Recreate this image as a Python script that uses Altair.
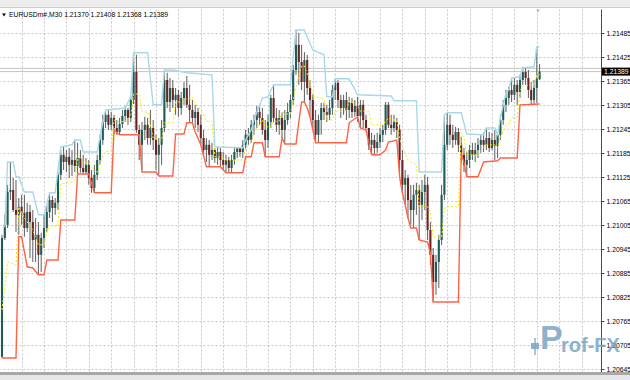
import altair as alt
import pandas as pd

# ---------------- data (EURUSD M30 candles, prices) ----------------
opens = [
    1.20676,1.20973,1.21006,1.21088,1.21093,1.21043,1.21031,1.21051,1.21036,1.20998,
    1.21038,1.21013,1.20968,1.20981,1.20931,1.20973,1.20998,1.21038,1.21068,1.21048,
    1.21061,1.21131,1.21181,1.21163,1.21176,1.21156,1.21168,1.21153,1.21173,1.21148,
    1.21138,1.21156,1.21123,1.21098,1.21131,1.21168,1.21218,1.21263,1.21281,1.21256,
    1.21273,1.21248,1.21238,1.21258,1.21278,1.21293,1.21273,1.21318,1.21388,1.21243,
    1.21206,1.21243,1.21256,1.21223,1.21248,1.21218,1.21181,1.21206,1.21248,1.21368,
    1.21313,1.21348,1.21318,1.21331,1.21298,1.21323,1.21348,1.21306,1.21293,1.21273,
    1.21288,1.21256,1.21223,1.21193,1.21206,1.21181,1.21193,1.21173,1.21188,1.21168,
    1.21156,1.21168,1.21148,1.21168,1.21188,1.21198,1.21188,1.21206,1.21231,1.21218,
    1.21256,1.21268,1.21288,1.21273,1.21243,1.21218,1.21263,1.21323,1.21273,1.21256,
    1.21273,1.21243,1.21268,1.21288,1.21318,1.21393,1.21456,1.21413,1.21363,1.21418,
    1.21348,1.21318,1.21268,1.21231,1.21268,1.21298,1.21288,1.21281,1.21298,1.21343,
    1.21361,1.21318,1.21298,1.21318,1.21293,1.21311,1.21288,1.21303,1.21278,1.21306,
    1.21268,1.21248,1.21206,1.21218,1.21198,1.21213,1.21231,1.21243,1.21306,1.21256,
    1.21248,1.21263,1.21243,1.21168,1.21106,1.21123,1.21068,1.21043,1.21081,1.21093,
    1.21056,1.21088,1.21106,1.20993,1.20931,1.20863,1.20913,1.20968,1.21081,1.21206,
    1.21256,1.21231,1.21218,1.21238,1.21206,1.21181,1.21156,1.21168,1.21193,1.21181,
    1.21193,1.21206,1.21218,1.21206,1.21223,1.21198,1.21218,1.21203,1.21231,1.21268,
    1.21306,1.21323,1.21343,1.21331,1.21356,1.21338,1.21368,1.21388,1.21373,1.21343,
    1.21318,1.21348,1.21370,
]
highs = [
    1.20981,1.21031,1.21106,1.21163,1.21123,1.21118,1.21073,1.21081,1.21081,1.21061,
    1.21056,1.21043,1.21023,1.21013,1.20986,1.21031,1.21056,1.21086,1.21078,1.21073,
    1.21138,1.21193,1.21201,1.21193,1.21198,1.21193,1.21218,1.21211,1.21193,1.21181,
    1.21173,1.21168,1.21143,1.21156,1.21181,1.21231,1.21281,1.21293,1.21293,1.21288,
    1.21281,1.21268,1.21273,1.21293,1.21303,1.21298,1.21326,1.21436,1.21431,1.21256,
    1.21263,1.21276,1.21273,1.21293,1.21268,1.21231,1.21223,1.21268,1.21393,1.21386,
    1.21373,1.21368,1.21348,1.21343,1.21338,1.21363,1.21378,1.21356,1.21318,1.21306,
    1.21298,1.21281,1.21243,1.21223,1.21218,1.21211,1.21198,1.21201,1.21198,1.21188,
    1.21181,1.21176,1.21181,1.21201,1.21198,1.21198,1.21218,1.21243,1.21248,1.21268,
    1.21281,1.21303,1.21306,1.21298,1.21268,1.21281,1.21331,1.21356,1.21298,1.21293,
    1.21288,1.21293,1.21311,1.21331,1.21406,1.21493,1.21486,1.21456,1.21438,1.21431,
    1.21368,1.21331,1.21293,1.21281,1.21311,1.21311,1.21306,1.21318,1.21356,1.21371,
    1.21368,1.21331,1.21331,1.21338,1.21326,1.21323,1.21318,1.21326,1.21318,1.21318,
    1.21281,1.21248,1.21236,1.21231,1.21236,1.21248,1.21256,1.21313,1.21313,1.21281,
    1.21281,1.21273,1.21256,1.21193,1.21143,1.21131,1.21106,1.21106,1.21111,1.21106,
    1.21118,1.21131,1.21126,1.21013,1.20948,1.20931,1.20981,1.21106,1.21281,1.21286,
    1.21281,1.21256,1.21251,1.21248,1.21226,1.21198,1.21188,1.21206,1.21211,1.21211,
    1.21223,1.21231,1.21236,1.21248,1.21238,1.21236,1.21243,1.21231,1.21281,1.21318,
    1.21343,1.21351,1.21373,1.21373,1.21368,1.21381,1.21401,1.21398,1.21393,1.21363,
    1.21368,1.21451,1.21408,
]
lows = [
    1.20673,1.20968,1.20998,1.21068,1.21038,1.20988,1.20981,1.21006,1.20976,1.20988,
    1.20923,1.20913,1.20913,1.20881,1.20888,1.20948,1.20988,1.21023,1.21013,1.21031,
    1.21043,1.21118,1.21143,1.21138,1.21123,1.21128,1.21138,1.21133,1.21136,1.21133,
    1.21133,1.21106,1.21086,1.21086,1.21118,1.21156,1.21206,1.21248,1.21243,1.21243,
    1.21233,1.21231,1.21231,1.21248,1.21263,1.21256,1.21263,1.21308,1.21236,1.21168,
    1.21143,1.21218,1.21206,1.21206,1.21193,1.21143,1.21131,1.21156,1.21238,1.21298,
    1.21288,1.21298,1.21281,1.21276,1.21281,1.21306,1.21298,1.21263,1.21261,1.21248,
    1.21238,1.21206,1.21181,1.21163,1.21151,1.21168,1.21161,1.21156,1.21151,1.21143,
    1.21136,1.21136,1.21138,1.21156,1.21173,1.21176,1.21173,1.21193,1.21206,1.21211,
    1.21231,1.21248,1.21256,1.21231,1.21176,1.21198,1.21248,1.21263,1.21238,1.21231,
    1.21223,1.21208,1.21256,1.21273,1.21306,1.21381,1.21356,1.21343,1.21313,1.21331,
    1.21276,1.21243,1.21211,1.21211,1.21231,1.21268,1.21263,1.21268,1.21281,1.21318,
    1.21298,1.21273,1.21281,1.21268,1.21273,1.21273,1.21276,1.21263,1.21248,1.21248,
    1.21243,1.21193,1.21181,1.21181,1.21186,1.21198,1.21213,1.21231,1.21248,1.21231,
    1.21238,1.21223,1.21126,1.21086,1.21056,1.21023,1.21006,1.20998,1.21031,1.20968,
    1.21018,1.21043,1.20968,1.20906,1.20813,1.20831,1.20848,1.20956,1.21068,1.21193,
    1.21206,1.21198,1.21206,1.21188,1.21161,1.21138,1.21126,1.21148,1.21168,1.21163,
    1.21173,1.21186,1.21188,1.21193,1.21188,1.21193,1.21168,1.21173,1.21218,1.21256,
    1.21288,1.21306,1.21313,1.21318,1.21306,1.21323,1.21356,1.21356,1.21323,1.21308,
    1.21306,1.21311,1.21368,
]
closes = [
    1.20973,1.21006,1.21088,1.21093,1.21043,1.21031,1.21051,1.21036,1.20998,1.21038,
    1.21013,1.20968,1.20981,1.20931,1.20973,1.20998,1.21038,1.21068,1.21048,1.21061,
    1.21131,1.21181,1.21163,1.21176,1.21156,1.21168,1.21153,1.21173,1.21148,1.21138,
    1.21156,1.21123,1.21098,1.21131,1.21168,1.21218,1.21263,1.21281,1.21256,1.21273,
    1.21248,1.21238,1.21258,1.21278,1.21293,1.21273,1.21318,1.21388,1.21243,1.21206,
    1.21243,1.21256,1.21223,1.21248,1.21218,1.21181,1.21206,1.21248,1.21368,1.21313,
    1.21348,1.21318,1.21331,1.21298,1.21323,1.21348,1.21306,1.21293,1.21273,1.21288,
    1.21256,1.21223,1.21193,1.21206,1.21181,1.21193,1.21173,1.21188,1.21168,1.21156,
    1.21168,1.21148,1.21168,1.21188,1.21198,1.21188,1.21206,1.21231,1.21218,1.21256,
    1.21268,1.21288,1.21273,1.21243,1.21218,1.21263,1.21323,1.21273,1.21256,1.21273,
    1.21243,1.21268,1.21288,1.21318,1.21393,1.21456,1.21413,1.21363,1.21418,1.21348,
    1.21318,1.21268,1.21231,1.21268,1.21298,1.21288,1.21281,1.21298,1.21343,1.21361,
    1.21318,1.21298,1.21318,1.21293,1.21311,1.21288,1.21303,1.21278,1.21306,1.21268,
    1.21248,1.21206,1.21218,1.21198,1.21213,1.21231,1.21243,1.21306,1.21256,1.21248,
    1.21263,1.21243,1.21168,1.21106,1.21123,1.21068,1.21043,1.21081,1.21093,1.21056,
    1.21088,1.21106,1.20993,1.20931,1.20863,1.20913,1.20968,1.21081,1.21206,1.21256,
    1.21231,1.21218,1.21238,1.21206,1.21181,1.21156,1.21168,1.21193,1.21181,1.21193,
    1.21206,1.21218,1.21206,1.21223,1.21198,1.21218,1.21203,1.21231,1.21268,1.21306,
    1.21323,1.21343,1.21331,1.21356,1.21338,1.21368,1.21388,1.21373,1.21343,1.21318,
    1.21348,1.21371,1.21389,
]

# channel lines: vertices (bar index, price)
upper_i = [1,2,4,5,6,8,11,13,15,17, 19,21,25,26,28,29,34,36,37,44,
           46,47,52,54,57,58,61,66,75,76, 86,87,89,90,93,95,97,103,105,108,
           111,115,116,118,119,124,127,139,140,148, 149,157,158,159,164,166,172,173,176,177,
           178,180,181,182,185,186,190,191,192]
upper_p = [1.21000,1.21163,1.21163,1.21126,1.21126,1.21088,1.21088,1.21031,1.21031,1.21086,
           1.21086,1.21201,1.21206,1.21218,1.21218,1.21188,1.21188,1.21263,1.21293,1.21298,
           1.21326,1.21436,1.21436,1.21306,1.21306,1.21393,1.21393,1.21386,1.21381,1.21201,
           1.21198,1.21218,1.21243,1.21268,1.21323,1.21326,1.21356,1.21356,1.21493,1.21493,
           1.21443,1.21431,1.21326,1.21326,1.21371,1.21371,1.21331,1.21328,1.21316,1.21316,
           1.21138,1.21138,1.21281,1.21286,1.21286,1.21233,1.21231,1.21248,1.21248,1.21231,
           1.21273,1.21336,1.21343,1.21373,1.21376,1.21398,1.21401,1.21451,1.21451]
lower_i = [0,5,6,7,9,11,13,15,16,20, 21,26,27,31,33,39,40,42,49,50,
           55,56,61,62,65,66,68,69,71,73, 78,80,86,87,89,90,93,94,99,100,
           101,105,106,107,108,109,110,112,123,124, 127,128,130,132,135,137,138,141,142,143,
           144,145,146,148,149,152,153,154,163,164, 165,166,170,172,177,178,184,185,192]
lower_p = [1.20673,1.20673,1.20976,1.20976,1.20901,1.20898,1.20881,1.20881,1.20918,1.20918,
           1.21018,1.21018,1.21133,1.21133,1.21086,1.21086,1.21243,1.21231,1.21231,1.21138,
           1.21138,1.21128,1.21128,1.21233,1.21233,1.21261,1.21261,1.21238,1.21206,1.21151,
           1.21151,1.21136,1.21136,1.21176,1.21176,1.21211,1.21211,1.21176,1.21176,1.21223,
           1.21208,1.21208,1.21263,1.21313,1.21313,1.21298,1.21276,1.21211,1.21211,1.21261,
           1.21276,1.21248,1.21243,1.21181,1.21181,1.21193,1.21213,1.21218,1.21126,1.21086,
           1.21056,1.21023,1.20998,1.20998,1.20968,1.20963,1.20936,1.20813,1.20813,1.21186,
           1.21161,1.21126,1.21126,1.21163,1.21166,1.21173,1.21173,1.21306,1.21308]
mid_i = [0,2,5,6,8,11,13,15,16,17, 20,21,25,26,27,28,29,31,33,34,
         36,37,39,40,42,44,46,47,49,50, 52,54,55,56,57,58,61,62,65,66,
         68,69,71,73,75,76,78,80,86,87, 89,90,93,94,96,97,99,100,101,103,
         105,106,107,108,109,110,111,115,116,118, 119,123,124,127,128,131,132,135,137,138,
         140,141,142,143,144,145,148,149,152,153, 154,157,158,159,163,164,165,166,170,172,
         173,176,177,178,180,181,182,184,185,186, 190,191,192]
mid_p = [1.20793,1.20913,1.20906,1.21051,1.21023,1.20993,1.20956,1.20956,1.20988,1.21003,
         1.21003,1.21108,1.21113,1.21118,1.21176,1.21176,1.21161,1.21161,1.21138,1.21138,
         1.21176,1.21190,1.21190,1.21268,1.21263,1.21265,1.21278,1.21333,1.21333,1.21288,
         1.21288,1.21223,1.21223,1.21218,1.21218,1.21261,1.21261,1.21313,1.21313,1.21323,
         1.21323,1.21311,1.21293,1.21265,1.21265,1.21176,1.21176,1.21168,1.21168,1.21198,
         1.21211,1.21240,1.21268,1.21251,1.21251,1.21265,1.21265,1.21290,1.21283,1.21283,
         1.21351,1.21378,1.21403,1.21403,1.21383,1.21366,1.21328,1.21320,1.21268,1.21268,
         1.21290,1.21290,1.21316,1.21303,1.21290,1.21290,1.21256,1.21256,1.21263,1.21273,
         1.21268,1.21268,1.21221,1.21201,1.21186,1.21168,1.21156,1.21053,1.21051,1.21038,
         1.20976,1.20976,1.21048,1.21051,1.21051,1.21236,1.21223,1.21181,1.21181,1.21198,
         1.21206,1.21206,1.21198,1.21223,1.21256,1.21258,1.21273,1.21276,1.21341,1.21353,
         1.21356,1.21381,1.21381]

grid_bars = [7, 15, 23, 31, 39, 47, 55, 63, 71, 79, 87, 95, 103, 111, 119, 127,
             135, 143, 151, 159, 167, 175, 183, 191, 199, 207]
price_ticks = [1.20645, 1.20705, 1.20765, 1.20825, 1.20885, 1.20945, 1.21005, 1.21065,
               1.21125, 1.21185, 1.21245, 1.21305, 1.21365, 1.21425, 1.21485]
bid_ask = [1.21389, 1.21397]
last_price = 1.21389
title_text = "EURUSDm#,M30  1.21370 1.21408 1.21368 1.21389"

# ---------------- frames ----------------
bars = pd.DataFrame({"i": list(range(len(closes))), "open": opens, "high": highs,
                     "low": lows, "close": closes})
bars["dir"] = ["up" if c >= o else "down" for o, c in zip(opens, closes)]
up_df = pd.DataFrame({"i": upper_i, "p": upper_p})
lo_df = pd.DataFrame({"i": lower_i, "p": lower_p})
md_df = pd.DataFrame({"i": mid_i, "p": mid_p})
ba_df = pd.DataFrame({"p": bid_ask})
lbl_df = pd.DataFrame({"p": [last_price], "lbl": [f"{last_price:.5f}"]})
one = pd.DataFrame({"a": [0]})

FONT = "Liberation Sans"
xs = alt.Scale(domain=[-0.714, 213.93], nice=False, zero=False)
ys = alt.Scale(domain=[1.20638, 1.215455], nice=False, zero=False)
x_axis = alt.Axis(values=grid_bars, grid=True, gridDash=[2, 2], gridColor="#c6c6c6",
                  labels=False, ticks=False, domain=False, title=None)
y_axis = alt.Axis(orient="right", values=price_ticks, format=".5f", grid=True,
                  gridDash=[2, 2], gridColor="#c6c6c6", labelFont=FONT, labelFontSize=6.8,
                  labelColor="#000000", tickSize=3, tickColor="#444444", domain=True,
                  domainColor="#4a4a4a", labelPadding=2, labelFlush=False,
                  labelOverlap=False, title=None)


def X(f):
    return alt.X(f"{f}:Q", scale=xs, axis=x_axis)


def Y(f):
    return alt.Y(f"{f}:Q", scale=ys, axis=y_axis)


wick = alt.Chart(bars).mark_rule(color="#5c5c5c", strokeWidth=1).encode(
    x=X("i"), y=Y("low"), y2="high:Q")
body = alt.Chart(bars).mark_rule(strokeWidth=2.1, strokeCap="butt").encode(
    x=X("i"), y=Y("open"), y2="close:Q",
    color=alt.Color("dir:N", scale=alt.Scale(domain=["up", "down"],
                                             range=["#1c5d57", "#6e2121"]), legend=None))
upper = alt.Chart(up_df).mark_line(color="#a9d8e8", strokeWidth=1.4).encode(x=X("i"), y=Y("p"))
lower = alt.Chart(lo_df).mark_line(color="#ff6347", strokeWidth=1.4).encode(x=X("i"), y=Y("p"))
middle = alt.Chart(md_df).mark_line(color="#f0f000", strokeWidth=1, strokeDash=[2, 2]).encode(
    x=X("i"), y=Y("p"))
bidask = alt.Chart(ba_df).mark_rule(color="#c4c4c4", strokeWidth=1).encode(y=Y("p"))

lbl_box = alt.Chart(lbl_df).mark_rule(color="#000000", strokeWidth=8, strokeCap="butt").encode(
    x=alt.value(602), x2=alt.value(630), y=Y("p"))
lbl_txt = alt.Chart(lbl_df).mark_text(color="#ffffff", fontSize=6.8, font=FONT, align="left",
                                      baseline="middle").encode(
    x=alt.value(604), y=Y("p"), text="lbl:N")

top_band = alt.Chart(one).mark_rect(color="#ececec").encode(
    x=alt.value(0), x2=alt.value(630), y=alt.value(-9), y2=alt.value(-2))
top_line = alt.Chart(one).mark_rule(color="#cfcfcf").encode(
    x=alt.value(0), x2=alt.value(630), y=alt.value(-1.5))
bot_band = alt.Chart(one).mark_rect(color="#a8a8a8").encode(
    x=alt.value(0), x2=alt.value(630), y=alt.value(363), y2=alt.value(366))
bot_band2 = alt.Chart(one).mark_rect(color="#e6e6e6").encode(
    x=alt.value(0), x2=alt.value(630), y=alt.value(366), y2=alt.value(371))

tri = alt.Chart(one).mark_point(shape="triangle-down", filled=True, color="#000000",
                                size=14, opacity=1).encode(x=alt.value(4), y=alt.value(6))
tri2 = alt.Chart(one).mark_point(shape="triangle-down", filled=True, color="#b0b0b0",
                                 size=12, opacity=1).encode(x=alt.value(538), y=alt.value(2))
title = alt.Chart(one).mark_text(align="left", baseline="middle", fontSize=6.8, font=FONT,
                                 color="#000000").encode(
    x=alt.value(9), y=alt.value(6), text=alt.value(title_text))

wm_col = "#7ba4c6"
wm_stem = alt.Chart(one).mark_rule(color=wm_col, strokeWidth=1.5, opacity=0.85).encode(
    x=alt.value(535), y=alt.value(329), y2=alt.value(346))
wm_box = alt.Chart(one).mark_rect(color=wm_col, opacity=0.85).encode(
    x=alt.value(531), x2=alt.value(539), y=alt.value(334), y2=alt.value(340))
wm_p = alt.Chart(one).mark_text(align="left", baseline="alphabetic", fontSize=34,
                                fontWeight="bold", font=FONT, color=wm_col, opacity=0.85).encode(
    x=alt.value(540), y=alt.value(340), text=alt.value("P"))
wm_t = alt.Chart(one).mark_text(align="left", baseline="alphabetic", fontSize=20,
                                fontWeight="bold", font=FONT, color=wm_col, opacity=0.85).encode(
    x=alt.value(561), y=alt.value(343), text=alt.value("rof-FX"))

chart = alt.layer(
    top_band, top_line, bot_band, bot_band2,
    bidask, wick, body, upper, lower, middle,
    lbl_box, lbl_txt, tri, tri2, title, wm_stem, wm_box, wm_p, wm_t,
).properties(
    width=601, height=363,
    padding={"left": 0, "top": 9, "right": 29, "bottom": 8},
    autosize=alt.AutoSizeParams(type="none"),
    background="#ffffff",
).configure_view(stroke=None)

chart.save("out.html", embed_options={"renderer": "svg", "actions": False})
